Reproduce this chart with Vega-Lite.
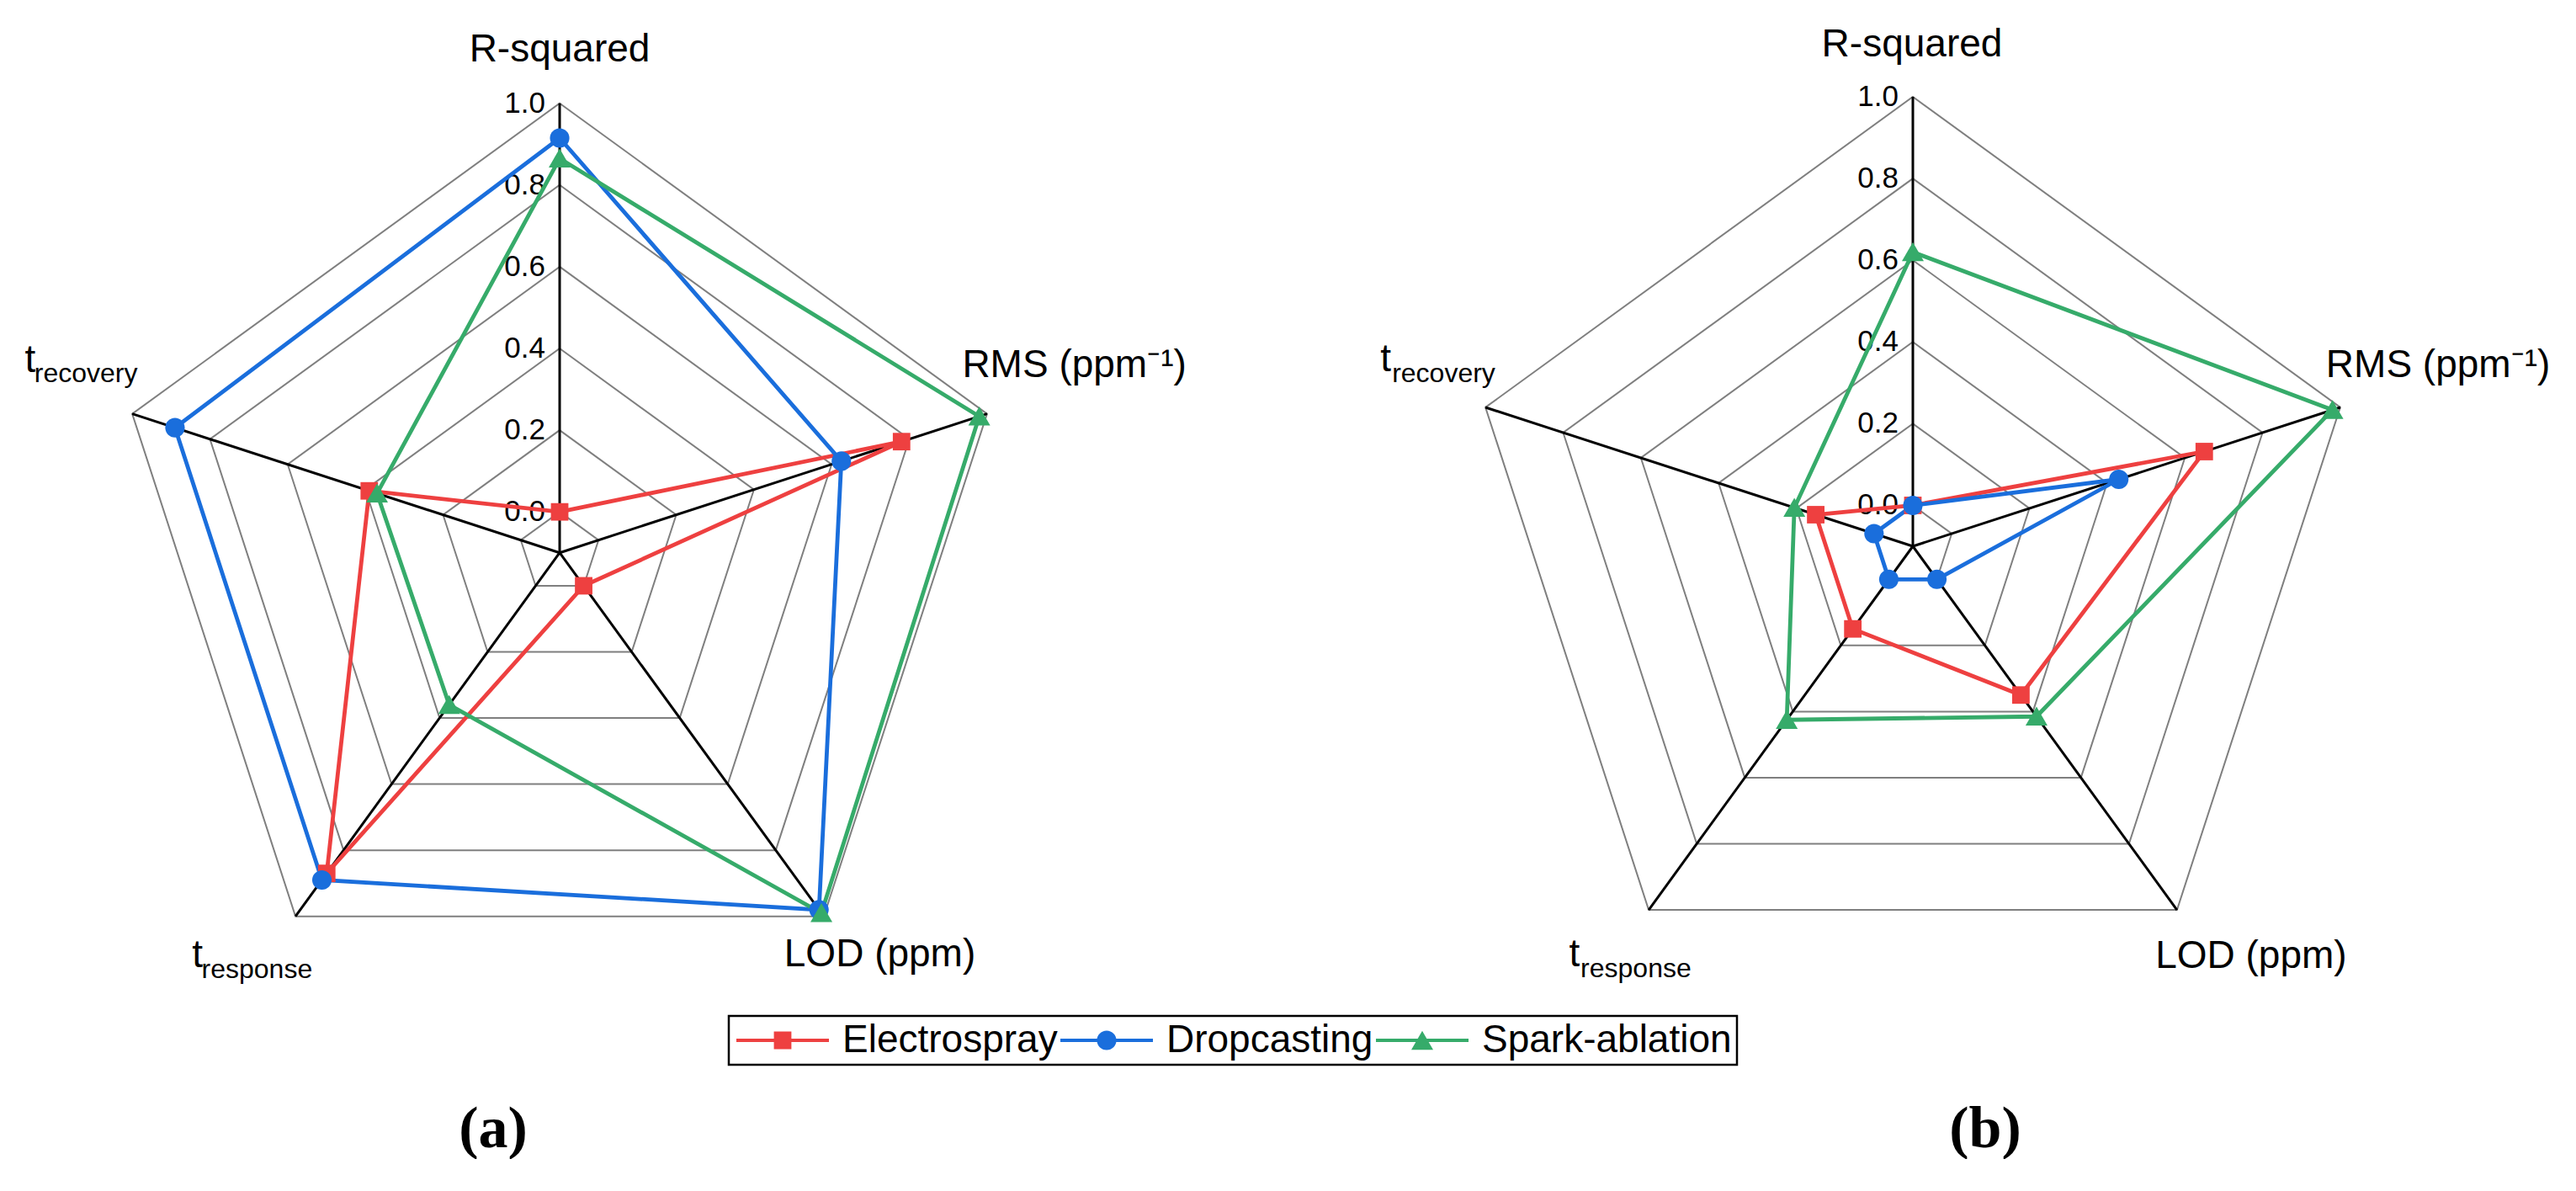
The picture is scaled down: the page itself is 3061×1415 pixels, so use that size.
{
  "$schema": "https://vega.github.io/schema/vega-lite/v6.json",
  "padding": 0,
  "spacing": 0,
  "bounds": "flush",
  "background": "white",
  "config": {
    "view": {"stroke": null},
    "font": "Liberation Sans",
    "legend": {
      "orient": "none",
      "legendX": 866,
      "legendY": 1207,
      "direction": "horizontal",
      "columns": 3,
      "columnPadding": 0,
      "padding": 6,
      "strokeColor": "black",
      "labelFont": "Liberation Sans",
      "labelFontSize": 46,
      "labelColor": "black",
      "labelLimit": 800,
      "labelOffset": 83,
      "symbolSize": 1600,
      "title": null
    }
  },
  "datasets": {
    "scores": [
      {"panel": "a", "metric": "R-squared", "method": "Electrospray", "value": 0.0},
      {"panel": "a", "metric": "RMS", "method": "Electrospray", "value": 0.78},
      {"panel": "a", "metric": "LOD", "method": "Electrospray", "value": 0.0},
      {"panel": "a", "metric": "t_response", "method": "Electrospray", "value": 0.87},
      {"panel": "a", "metric": "t_recovery", "method": "Electrospray", "value": 0.39},
      {"panel": "a", "metric": "R-squared", "method": "Dropcasting", "value": 0.915},
      {"panel": "a", "metric": "RMS", "method": "Dropcasting", "value": 0.625},
      {"panel": "a", "metric": "LOD", "method": "Dropcasting", "value": 0.98},
      {"panel": "a", "metric": "t_response", "method": "Dropcasting", "value": 0.89},
      {"panel": "a", "metric": "t_recovery", "method": "Dropcasting", "value": 0.89},
      {"panel": "a", "metric": "R-squared", "method": "Spark-ablation", "value": 0.865},
      {"panel": "a", "metric": "RMS", "method": "Spark-ablation", "value": 0.98},
      {"panel": "a", "metric": "LOD", "method": "Spark-ablation", "value": 0.99},
      {"panel": "a", "metric": "t_response", "method": "Spark-ablation", "value": 0.36},
      {"panel": "a", "metric": "t_recovery", "method": "Spark-ablation", "value": 0.37},
      {"panel": "b", "metric": "R-squared", "method": "Electrospray", "value": 0.0},
      {"panel": "b", "metric": "RMS", "method": "Electrospray", "value": 0.65},
      {"panel": "b", "metric": "LOD", "method": "Electrospray", "value": 0.35},
      {"panel": "b", "metric": "t_response", "method": "Electrospray", "value": 0.15},
      {"panel": "b", "metric": "t_recovery", "method": "Electrospray", "value": 0.15},
      {"panel": "b", "metric": "R-squared", "method": "Dropcasting", "value": 0.0},
      {"panel": "b", "metric": "RMS", "method": "Dropcasting", "value": 0.43},
      {"panel": "b", "metric": "LOD", "method": "Dropcasting", "value": 0.0},
      {"panel": "b", "metric": "t_response", "method": "Dropcasting", "value": 0.0},
      {"panel": "b", "metric": "t_recovery", "method": "Dropcasting", "value": 0.0},
      {"panel": "b", "metric": "R-squared", "method": "Spark-ablation", "value": 0.62},
      {"panel": "b", "metric": "RMS", "method": "Spark-ablation", "value": 0.98},
      {"panel": "b", "metric": "LOD", "method": "Spark-ablation", "value": 0.415},
      {"panel": "b", "metric": "t_response", "method": "Spark-ablation", "value": 0.425},
      {"panel": "b", "metric": "t_recovery", "method": "Spark-ablation", "value": 0.205}
    ],
    "rings": [
      {"level": 0.0, "k": [0, 1, 2, 3, 4]},
      {"level": 0.2, "k": [0, 1, 2, 3, 4]},
      {"level": 0.4, "k": [0, 1, 2, 3, 4]},
      {"level": 0.6, "k": [0, 1, 2, 3, 4]},
      {"level": 0.8, "k": [0, 1, 2, 3, 4]},
      {"level": 1.0, "k": [0, 1, 2, 3, 4]}
    ],
    "spokes": [
      {"k": 0, "level": [-0.1, 1.0]},
      {"k": 1, "level": [-0.1, 1.0]},
      {"k": 2, "level": [-0.1, 1.0]},
      {"k": 3, "level": [-0.1, 1.0]},
      {"k": 4, "level": [-0.1, 1.0]}
    ],
    "ticks": [
      {"level": 0.0}, {"level": 0.2}, {"level": 0.4}, {"level": 0.6}, {"level": 0.8}, {"level": 1.0}
    ]
  },
  "resolve": {"scale": {"x": "independent", "y": "independent"}},
  "hconcat": [
    {
      "width": 1530,
      "height": 1300,
      "title": {"text": "(a)", "orient": "bottom", "anchor": "middle", "dx": -179, "offset": 8, "font": "Liberation Serif", "fontSize": 70, "fontWeight": "bold", "color": "black", "baseline": "top"},
      "encoding": {
        "x": {"field": "px", "type": "quantitative", "scale": {"domain": [-1.3699, 1.7818], "nice": false, "zero": false}, "axis": null},
        "y": {"field": "py", "type": "quantitative", "scale": {"domain": [-1.3252, 1.3528], "nice": false, "zero": false}, "axis": null}
      },
      "layer": [
        {
          "data": {"name": "rings"},
          "transform": [
            {"flatten": ["k"]},
            {"calculate": "PI/2 - datum.k*2*PI/5", "as": "ang"},
            {"calculate": "(datum.level+0.1)*cos(datum.ang)", "as": "px"},
            {"calculate": "(datum.level+0.1)*sin(datum.ang)", "as": "py"}
          ],
          "mark": {"type": "line", "interpolate": "linear-closed", "color": "#7f7f7f", "strokeWidth": 2},
          "encoding": {"detail": {"field": "level", "type": "nominal"}, "order": {"field": "k", "type": "quantitative"}}
        },
        {
          "data": {"name": "spokes"},
          "transform": [
            {"flatten": ["level"]},
            {"calculate": "PI/2 - datum.k*2*PI/5", "as": "ang"},
            {"calculate": "(datum.level+0.1)*cos(datum.ang)", "as": "px"},
            {"calculate": "(datum.level+0.1)*sin(datum.ang)", "as": "py"}
          ],
          "mark": {"type": "line", "color": "black", "strokeWidth": 3},
          "encoding": {"detail": {"field": "k", "type": "nominal"}, "order": {"field": "level", "type": "quantitative"}}
        },
        {
          "data": {"name": "ticks"},
          "transform": [
            {"calculate": "(datum.level+0.1)*cos(PI/2)", "as": "px"},
            {"calculate": "(datum.level+0.1)*sin(PI/2)", "as": "py"}
          ],
          "mark": {"type": "text", "align": "right", "baseline": "middle", "dx": -17, "fontSize": 35, "font": "Liberation Sans", "color": "black"},
          "encoding": {"text": {"field": "level", "type": "quantitative", "format": ".1f"}}
        },
        {
          "data": {"name": "scores"},
          "transform": [
            {"filter": "datum.panel === 'a'"},
            {"calculate": "indexof(['R-squared','RMS','LOD','t_response','t_recovery'], datum.metric)", "as": "idx"},
            {"calculate": "PI/2 - datum.idx*2*PI/5", "as": "ang"},
            {"calculate": "(datum.value+0.1)*cos(datum.ang)", "as": "px"},
            {"calculate": "(datum.value+0.1)*sin(datum.ang)", "as": "py"}
          ],
          "mark": {"type": "line", "interpolate": "linear-closed", "strokeWidth": 4.8},
          "encoding": {
            "color": {"field": "method", "type": "nominal", "scale": {"domain": ["Electrospray", "Dropcasting", "Spark-ablation"], "range": ["#EE4040", "#1A6EDC", "#36AB6A"]},
              "legend": {"encode": {"legend": {"update": {"strokeWidth": {"value": 2.5}}}, "symbols": {"update": {
                "shape": {"signal": "datum.value === 'Electrospray' ? 'M-1,-0.1H4.5V0.1H-1Z M1.23,-0.52H2.27V0.52H1.23Z' : datum.value === 'Dropcasting' ? 'M-1,-0.1H4.5V0.1H-1Z M2.33,0A0.58,0.58 0 1,1 1.17,0A0.58,0.58 0 1,1 2.33,0Z' : 'M-1,-0.1H4.5V0.1H-1Z M1.75,-0.56L2.4,0.56L1.1,0.56Z'"},
                "fill": {"signal": "scale('color', datum.value)"},
                "fillOpacity": {"value": 1},
                "stroke": {"value": "transparent"},
                "strokeWidth": {"value": 0},
                "opacity": {"value": 1}
              }}}}},
            "order": {"field": "idx", "type": "quantitative"}
          }
        },
        {
          "data": {"name": "scores"},
          "transform": [
            {"filter": "datum.panel === 'a' && datum.method === 'Electrospray'"},
            {"calculate": "indexof(['R-squared','RMS','LOD','t_response','t_recovery'], datum.metric)", "as": "idx"},
            {"calculate": "PI/2 - datum.idx*2*PI/5", "as": "ang"},
            {"calculate": "(datum.value+0.1)*cos(datum.ang)", "as": "px"},
            {"calculate": "(datum.value+0.1)*sin(datum.ang)", "as": "py"}
          ],
          "mark": {"type": "point", "filled": true, "size": 676, "opacity": 1, "strokeWidth": 0, "shape": "M-0.8,-0.8H0.8V0.8H-0.8Z"},
          "encoding": {
            "color": {"field": "method", "type": "nominal", "scale": {"domain": ["Electrospray", "Dropcasting", "Spark-ablation"], "range": ["#EE4040", "#1A6EDC", "#36AB6A"]},
              "legend": {"encode": {"legend": {"update": {"strokeWidth": {"value": 2.5}}}, "symbols": {"update": {
                "shape": {"signal": "datum.value === 'Electrospray' ? 'M-1,-0.1H4.5V0.1H-1Z M1.23,-0.52H2.27V0.52H1.23Z' : datum.value === 'Dropcasting' ? 'M-1,-0.1H4.5V0.1H-1Z M2.33,0A0.58,0.58 0 1,1 1.17,0A0.58,0.58 0 1,1 2.33,0Z' : 'M-1,-0.1H4.5V0.1H-1Z M1.75,-0.56L2.4,0.56L1.1,0.56Z'"},
                "fill": {"signal": "scale('color', datum.value)"},
                "fillOpacity": {"value": 1},
                "stroke": {"value": "transparent"},
                "strokeWidth": {"value": 0},
                "opacity": {"value": 1}
              }}}}}
          }
        },
        {
          "data": {"name": "scores"},
          "transform": [
            {"filter": "datum.panel === 'a' && datum.method === 'Dropcasting'"},
            {"calculate": "indexof(['R-squared','RMS','LOD','t_response','t_recovery'], datum.metric)", "as": "idx"},
            {"calculate": "PI/2 - datum.idx*2*PI/5", "as": "ang"},
            {"calculate": "(datum.value+0.1)*cos(datum.ang)", "as": "px"},
            {"calculate": "(datum.value+0.1)*sin(datum.ang)", "as": "py"}
          ],
          "mark": {"type": "point", "filled": true, "size": 676, "opacity": 1, "strokeWidth": 0, "shape": "M0.89,0A0.89,0.89 0 1,1 -0.89,0A0.89,0.89 0 1,1 0.89,0Z"},
          "encoding": {
            "color": {"field": "method", "type": "nominal", "scale": {"domain": ["Electrospray", "Dropcasting", "Spark-ablation"], "range": ["#EE4040", "#1A6EDC", "#36AB6A"]},
              "legend": {"encode": {"legend": {"update": {"strokeWidth": {"value": 2.5}}}, "symbols": {"update": {
                "shape": {"signal": "datum.value === 'Electrospray' ? 'M-1,-0.1H4.5V0.1H-1Z M1.23,-0.52H2.27V0.52H1.23Z' : datum.value === 'Dropcasting' ? 'M-1,-0.1H4.5V0.1H-1Z M2.33,0A0.58,0.58 0 1,1 1.17,0A0.58,0.58 0 1,1 2.33,0Z' : 'M-1,-0.1H4.5V0.1H-1Z M1.75,-0.56L2.4,0.56L1.1,0.56Z'"},
                "fill": {"signal": "scale('color', datum.value)"},
                "fillOpacity": {"value": 1},
                "stroke": {"value": "transparent"},
                "strokeWidth": {"value": 0},
                "opacity": {"value": 1}
              }}}}}
          }
        },
        {
          "data": {"name": "scores"},
          "transform": [
            {"filter": "datum.panel === 'a' && datum.method === 'Spark-ablation'"},
            {"calculate": "indexof(['R-squared','RMS','LOD','t_response','t_recovery'], datum.metric)", "as": "idx"},
            {"calculate": "PI/2 - datum.idx*2*PI/5", "as": "ang"},
            {"calculate": "(datum.value+0.1)*cos(datum.ang)", "as": "px"},
            {"calculate": "(datum.value+0.1)*sin(datum.ang)", "as": "py"}
          ],
          "mark": {"type": "point", "filled": true, "size": 676, "opacity": 1, "strokeWidth": 0, "shape": "M0,-0.9L1,0.83L-1,0.83Z"},
          "encoding": {
            "color": {"field": "method", "type": "nominal", "scale": {"domain": ["Electrospray", "Dropcasting", "Spark-ablation"], "range": ["#EE4040", "#1A6EDC", "#36AB6A"]},
              "legend": {"encode": {"legend": {"update": {"strokeWidth": {"value": 2.5}}}, "symbols": {"update": {
                "shape": {"signal": "datum.value === 'Electrospray' ? 'M-1,-0.1H4.5V0.1H-1Z M1.23,-0.52H2.27V0.52H1.23Z' : datum.value === 'Dropcasting' ? 'M-1,-0.1H4.5V0.1H-1Z M2.33,0A0.58,0.58 0 1,1 1.17,0A0.58,0.58 0 1,1 2.33,0Z' : 'M-1,-0.1H4.5V0.1H-1Z M1.75,-0.56L2.4,0.56L1.1,0.56Z'"},
                "fill": {"signal": "scale('color', datum.value)"},
                "fillOpacity": {"value": 1},
                "stroke": {"value": "transparent"},
                "strokeWidth": {"value": 0},
                "opacity": {"value": 1}
              }}}}}
          }
        },
        {
          "data": {"values": [{"k": 0, "txt": "R-squared"}]},
          "transform": [{"calculate": "1.1*cos(PI/2 - datum.k*2*PI/5)", "as": "px"}, {"calculate": "1.1*sin(PI/2 - datum.k*2*PI/5)", "as": "py"}],
          "mark": {"type": "text", "align": "center", "baseline": "alphabetic", "dx": 0, "dy": -50, "fontSize": 46, "font": "Liberation Sans", "color": "black"},
          "encoding": {"text": {"field": "txt"}}
        },
        {
          "data": {"values": [{"k": 1, "txt": "RMS (ppm⁻¹)"}]},
          "transform": [{"calculate": "1.1*cos(PI/2 - datum.k*2*PI/5)", "as": "px"}, {"calculate": "1.1*sin(PI/2 - datum.k*2*PI/5)", "as": "py"}],
          "mark": {"type": "text", "align": "left", "baseline": "alphabetic", "dx": -29.5, "dy": -44, "fontSize": 46, "font": "Liberation Sans", "color": "black"},
          "encoding": {"text": {"field": "txt"}}
        },
        {
          "data": {"values": [{"k": 2, "txt": "LOD (ppm)"}]},
          "transform": [{"calculate": "1.1*cos(PI/2 - datum.k*2*PI/5)", "as": "px"}, {"calculate": "1.1*sin(PI/2 - datum.k*2*PI/5)", "as": "py"}],
          "mark": {"type": "text", "align": "center", "baseline": "alphabetic", "dx": 66.6, "dy": 59.5, "fontSize": 46, "font": "Liberation Sans", "color": "black"},
          "encoding": {"text": {"field": "txt"}}
        },
        {
          "data": {"values": [{"k": 3, "txt": "t"}]},
          "transform": [{"calculate": "1.1*cos(PI/2 - datum.k*2*PI/5)", "as": "px"}, {"calculate": "1.1*sin(PI/2 - datum.k*2*PI/5)", "as": "py"}],
          "mark": {"type": "text", "align": "left", "baseline": "alphabetic", "dx": -123, "dy": 60.5, "fontSize": 46, "font": "Liberation Sans", "color": "black"},
          "encoding": {"text": {"field": "txt"}}
        },
        {
          "data": {"values": [{"k": 3, "txt": "response"}]},
          "transform": [{"calculate": "1.1*cos(PI/2 - datum.k*2*PI/5)", "as": "px"}, {"calculate": "1.1*sin(PI/2 - datum.k*2*PI/5)", "as": "py"}],
          "mark": {"type": "text", "align": "left", "baseline": "alphabetic", "dx": -111.6, "dy": 73.3, "fontSize": 32, "font": "Liberation Sans", "color": "black"},
          "encoding": {"text": {"field": "txt"}}
        },
        {
          "data": {"values": [{"k": 4, "txt": "t"}]},
          "transform": [{"calculate": "1.1*cos(PI/2 - datum.k*2*PI/5)", "as": "px"}, {"calculate": "1.1*sin(PI/2 - datum.k*2*PI/5)", "as": "py"}],
          "mark": {"type": "text", "align": "left", "baseline": "alphabetic", "dx": -127.6, "dy": -49.8, "fontSize": 46, "font": "Liberation Sans", "color": "black"},
          "encoding": {"text": {"field": "txt"}}
        },
        {
          "data": {"values": [{"k": 4, "txt": "recovery"}]},
          "transform": [{"calculate": "1.1*cos(PI/2 - datum.k*2*PI/5)", "as": "px"}, {"calculate": "1.1*sin(PI/2 - datum.k*2*PI/5)", "as": "py"}],
          "mark": {"type": "text", "align": "left", "baseline": "alphabetic", "dx": -116.4, "dy": -37.4, "fontSize": 32, "font": "Liberation Sans", "color": "black"},
          "encoding": {"text": {"field": "txt"}}
        }
      ]
    },
    {
      "width": 1531,
      "height": 1300,
      "title": {"text": "(b)", "orient": "bottom", "anchor": "middle", "dx": 63.5, "offset": 8, "font": "Liberation Serif", "fontSize": 70, "fontWeight": "bold", "color": "black", "baseline": "top"},
      "encoding": {
        "x": {"field": "px", "type": "quantitative", "scale": {"domain": [-1.5305, 1.6232], "nice": false, "zero": false}, "axis": null},
        "y": {"field": "py", "type": "quantitative", "scale": {"domain": [-1.3410, 1.3369], "nice": false, "zero": false}, "axis": null}
      },
      "layer": [
        {
          "data": {"name": "rings"},
          "transform": [
            {"flatten": ["k"]},
            {"calculate": "PI/2 - datum.k*2*PI/5", "as": "ang"},
            {"calculate": "(datum.level+0.1)*cos(datum.ang)", "as": "px"},
            {"calculate": "(datum.level+0.1)*sin(datum.ang)", "as": "py"}
          ],
          "mark": {"type": "line", "interpolate": "linear-closed", "color": "#7f7f7f", "strokeWidth": 2},
          "encoding": {"detail": {"field": "level", "type": "nominal"}, "order": {"field": "k", "type": "quantitative"}}
        },
        {
          "data": {"name": "spokes"},
          "transform": [
            {"flatten": ["level"]},
            {"calculate": "PI/2 - datum.k*2*PI/5", "as": "ang"},
            {"calculate": "(datum.level+0.1)*cos(datum.ang)", "as": "px"},
            {"calculate": "(datum.level+0.1)*sin(datum.ang)", "as": "py"}
          ],
          "mark": {"type": "line", "color": "black", "strokeWidth": 3},
          "encoding": {"detail": {"field": "k", "type": "nominal"}, "order": {"field": "level", "type": "quantitative"}}
        },
        {
          "data": {"name": "ticks"},
          "transform": [
            {"calculate": "(datum.level+0.1)*cos(PI/2)", "as": "px"},
            {"calculate": "(datum.level+0.1)*sin(PI/2)", "as": "py"}
          ],
          "mark": {"type": "text", "align": "right", "baseline": "middle", "dx": -17, "fontSize": 35, "font": "Liberation Sans", "color": "black"},
          "encoding": {"text": {"field": "level", "type": "quantitative", "format": ".1f"}}
        },
        {
          "data": {"name": "scores"},
          "transform": [
            {"filter": "datum.panel === 'b'"},
            {"calculate": "indexof(['R-squared','RMS','LOD','t_response','t_recovery'], datum.metric)", "as": "idx"},
            {"calculate": "PI/2 - datum.idx*2*PI/5", "as": "ang"},
            {"calculate": "(datum.value+0.1)*cos(datum.ang)", "as": "px"},
            {"calculate": "(datum.value+0.1)*sin(datum.ang)", "as": "py"}
          ],
          "mark": {"type": "line", "interpolate": "linear-closed", "strokeWidth": 4.8},
          "encoding": {
            "color": {"field": "method", "type": "nominal", "scale": {"domain": ["Electrospray", "Dropcasting", "Spark-ablation"], "range": ["#EE4040", "#1A6EDC", "#36AB6A"]},
              "legend": {"encode": {"legend": {"update": {"strokeWidth": {"value": 2.5}}}, "symbols": {"update": {
                "shape": {"signal": "datum.value === 'Electrospray' ? 'M-1,-0.1H4.5V0.1H-1Z M1.23,-0.52H2.27V0.52H1.23Z' : datum.value === 'Dropcasting' ? 'M-1,-0.1H4.5V0.1H-1Z M2.33,0A0.58,0.58 0 1,1 1.17,0A0.58,0.58 0 1,1 2.33,0Z' : 'M-1,-0.1H4.5V0.1H-1Z M1.75,-0.56L2.4,0.56L1.1,0.56Z'"},
                "fill": {"signal": "scale('color', datum.value)"},
                "fillOpacity": {"value": 1},
                "stroke": {"value": "transparent"},
                "strokeWidth": {"value": 0},
                "opacity": {"value": 1}
              }}}}},
            "order": {"field": "idx", "type": "quantitative"}
          }
        },
        {
          "data": {"name": "scores"},
          "transform": [
            {"filter": "datum.panel === 'b' && datum.method === 'Electrospray'"},
            {"calculate": "indexof(['R-squared','RMS','LOD','t_response','t_recovery'], datum.metric)", "as": "idx"},
            {"calculate": "PI/2 - datum.idx*2*PI/5", "as": "ang"},
            {"calculate": "(datum.value+0.1)*cos(datum.ang)", "as": "px"},
            {"calculate": "(datum.value+0.1)*sin(datum.ang)", "as": "py"}
          ],
          "mark": {"type": "point", "filled": true, "size": 676, "opacity": 1, "strokeWidth": 0, "shape": "M-0.8,-0.8H0.8V0.8H-0.8Z"},
          "encoding": {
            "color": {"field": "method", "type": "nominal", "scale": {"domain": ["Electrospray", "Dropcasting", "Spark-ablation"], "range": ["#EE4040", "#1A6EDC", "#36AB6A"]},
              "legend": {"encode": {"legend": {"update": {"strokeWidth": {"value": 2.5}}}, "symbols": {"update": {
                "shape": {"signal": "datum.value === 'Electrospray' ? 'M-1,-0.1H4.5V0.1H-1Z M1.23,-0.52H2.27V0.52H1.23Z' : datum.value === 'Dropcasting' ? 'M-1,-0.1H4.5V0.1H-1Z M2.33,0A0.58,0.58 0 1,1 1.17,0A0.58,0.58 0 1,1 2.33,0Z' : 'M-1,-0.1H4.5V0.1H-1Z M1.75,-0.56L2.4,0.56L1.1,0.56Z'"},
                "fill": {"signal": "scale('color', datum.value)"},
                "fillOpacity": {"value": 1},
                "stroke": {"value": "transparent"},
                "strokeWidth": {"value": 0},
                "opacity": {"value": 1}
              }}}}}
          }
        },
        {
          "data": {"name": "scores"},
          "transform": [
            {"filter": "datum.panel === 'b' && datum.method === 'Dropcasting'"},
            {"calculate": "indexof(['R-squared','RMS','LOD','t_response','t_recovery'], datum.metric)", "as": "idx"},
            {"calculate": "PI/2 - datum.idx*2*PI/5", "as": "ang"},
            {"calculate": "(datum.value+0.1)*cos(datum.ang)", "as": "px"},
            {"calculate": "(datum.value+0.1)*sin(datum.ang)", "as": "py"}
          ],
          "mark": {"type": "point", "filled": true, "size": 676, "opacity": 1, "strokeWidth": 0, "shape": "M0.89,0A0.89,0.89 0 1,1 -0.89,0A0.89,0.89 0 1,1 0.89,0Z"},
          "encoding": {
            "color": {"field": "method", "type": "nominal", "scale": {"domain": ["Electrospray", "Dropcasting", "Spark-ablation"], "range": ["#EE4040", "#1A6EDC", "#36AB6A"]},
              "legend": {"encode": {"legend": {"update": {"strokeWidth": {"value": 2.5}}}, "symbols": {"update": {
                "shape": {"signal": "datum.value === 'Electrospray' ? 'M-1,-0.1H4.5V0.1H-1Z M1.23,-0.52H2.27V0.52H1.23Z' : datum.value === 'Dropcasting' ? 'M-1,-0.1H4.5V0.1H-1Z M2.33,0A0.58,0.58 0 1,1 1.17,0A0.58,0.58 0 1,1 2.33,0Z' : 'M-1,-0.1H4.5V0.1H-1Z M1.75,-0.56L2.4,0.56L1.1,0.56Z'"},
                "fill": {"signal": "scale('color', datum.value)"},
                "fillOpacity": {"value": 1},
                "stroke": {"value": "transparent"},
                "strokeWidth": {"value": 0},
                "opacity": {"value": 1}
              }}}}}
          }
        },
        {
          "data": {"name": "scores"},
          "transform": [
            {"filter": "datum.panel === 'b' && datum.method === 'Spark-ablation'"},
            {"calculate": "indexof(['R-squared','RMS','LOD','t_response','t_recovery'], datum.metric)", "as": "idx"},
            {"calculate": "PI/2 - datum.idx*2*PI/5", "as": "ang"},
            {"calculate": "(datum.value+0.1)*cos(datum.ang)", "as": "px"},
            {"calculate": "(datum.value+0.1)*sin(datum.ang)", "as": "py"}
          ],
          "mark": {"type": "point", "filled": true, "size": 676, "opacity": 1, "strokeWidth": 0, "shape": "M0,-0.9L1,0.83L-1,0.83Z"},
          "encoding": {
            "color": {"field": "method", "type": "nominal", "scale": {"domain": ["Electrospray", "Dropcasting", "Spark-ablation"], "range": ["#EE4040", "#1A6EDC", "#36AB6A"]},
              "legend": {"encode": {"legend": {"update": {"strokeWidth": {"value": 2.5}}}, "symbols": {"update": {
                "shape": {"signal": "datum.value === 'Electrospray' ? 'M-1,-0.1H4.5V0.1H-1Z M1.23,-0.52H2.27V0.52H1.23Z' : datum.value === 'Dropcasting' ? 'M-1,-0.1H4.5V0.1H-1Z M2.33,0A0.58,0.58 0 1,1 1.17,0A0.58,0.58 0 1,1 2.33,0Z' : 'M-1,-0.1H4.5V0.1H-1Z M1.75,-0.56L2.4,0.56L1.1,0.56Z'"},
                "fill": {"signal": "scale('color', datum.value)"},
                "fillOpacity": {"value": 1},
                "stroke": {"value": "transparent"},
                "strokeWidth": {"value": 0},
                "opacity": {"value": 1}
              }}}}}
          }
        },
        {
          "data": {"values": [{"k": 0, "txt": "R-squared"}]},
          "transform": [{"calculate": "1.1*cos(PI/2 - datum.k*2*PI/5)", "as": "px"}, {"calculate": "1.1*sin(PI/2 - datum.k*2*PI/5)", "as": "py"}],
          "mark": {"type": "text", "align": "center", "baseline": "alphabetic", "dx": -1, "dy": -47.7, "fontSize": 46, "font": "Liberation Sans", "color": "black"},
          "encoding": {"text": {"field": "txt"}}
        },
        {
          "data": {"values": [{"k": 1, "txt": "RMS (ppm⁻¹)"}]},
          "transform": [{"calculate": "1.1*cos(PI/2 - datum.k*2*PI/5)", "as": "px"}, {"calculate": "1.1*sin(PI/2 - datum.k*2*PI/5)", "as": "py"}],
          "mark": {"type": "text", "align": "left", "baseline": "alphabetic", "dx": -17, "dy": -36.4, "fontSize": 46, "font": "Liberation Sans", "color": "black"},
          "encoding": {"text": {"field": "txt"}}
        },
        {
          "data": {"values": [{"k": 2, "txt": "LOD (ppm)"}]},
          "transform": [{"calculate": "1.1*cos(PI/2 - datum.k*2*PI/5)", "as": "px"}, {"calculate": "1.1*sin(PI/2 - datum.k*2*PI/5)", "as": "py"}],
          "mark": {"type": "text", "align": "center", "baseline": "alphabetic", "dx": 88, "dy": 69, "fontSize": 46, "font": "Liberation Sans", "color": "black"},
          "encoding": {"text": {"field": "txt"}}
        },
        {
          "data": {"values": [{"k": 3, "txt": "t"}]},
          "transform": [{"calculate": "1.1*cos(PI/2 - datum.k*2*PI/5)", "as": "px"}, {"calculate": "1.1*sin(PI/2 - datum.k*2*PI/5)", "as": "py"}],
          "mark": {"type": "text", "align": "left", "baseline": "alphabetic", "dx": -94.5, "dy": 67.3, "fontSize": 46, "font": "Liberation Sans", "color": "black"},
          "encoding": {"text": {"field": "txt"}}
        },
        {
          "data": {"values": [{"k": 3, "txt": "response"}]},
          "transform": [{"calculate": "1.1*cos(PI/2 - datum.k*2*PI/5)", "as": "px"}, {"calculate": "1.1*sin(PI/2 - datum.k*2*PI/5)", "as": "py"}],
          "mark": {"type": "text", "align": "left", "baseline": "alphabetic", "dx": -81, "dy": 79.7, "fontSize": 32, "font": "Liberation Sans", "color": "black"},
          "encoding": {"text": {"field": "txt"}}
        },
        {
          "data": {"values": [{"k": 4, "txt": "t"}]},
          "transform": [{"calculate": "1.1*cos(PI/2 - datum.k*2*PI/5)", "as": "px"}, {"calculate": "1.1*sin(PI/2 - datum.k*2*PI/5)", "as": "py"}],
          "mark": {"type": "text", "align": "left", "baseline": "alphabetic", "dx": -125, "dy": -42.7, "fontSize": 46, "font": "Liberation Sans", "color": "black"},
          "encoding": {"text": {"field": "txt"}}
        },
        {
          "data": {"values": [{"k": 4, "txt": "recovery"}]},
          "transform": [{"calculate": "1.1*cos(PI/2 - datum.k*2*PI/5)", "as": "px"}, {"calculate": "1.1*sin(PI/2 - datum.k*2*PI/5)", "as": "py"}],
          "mark": {"type": "text", "align": "left", "baseline": "alphabetic", "dx": -111, "dy": -30.3, "fontSize": 32, "font": "Liberation Sans", "color": "black"},
          "encoding": {"text": {"field": "txt"}}
        }
      ]
    }
  ]
}
